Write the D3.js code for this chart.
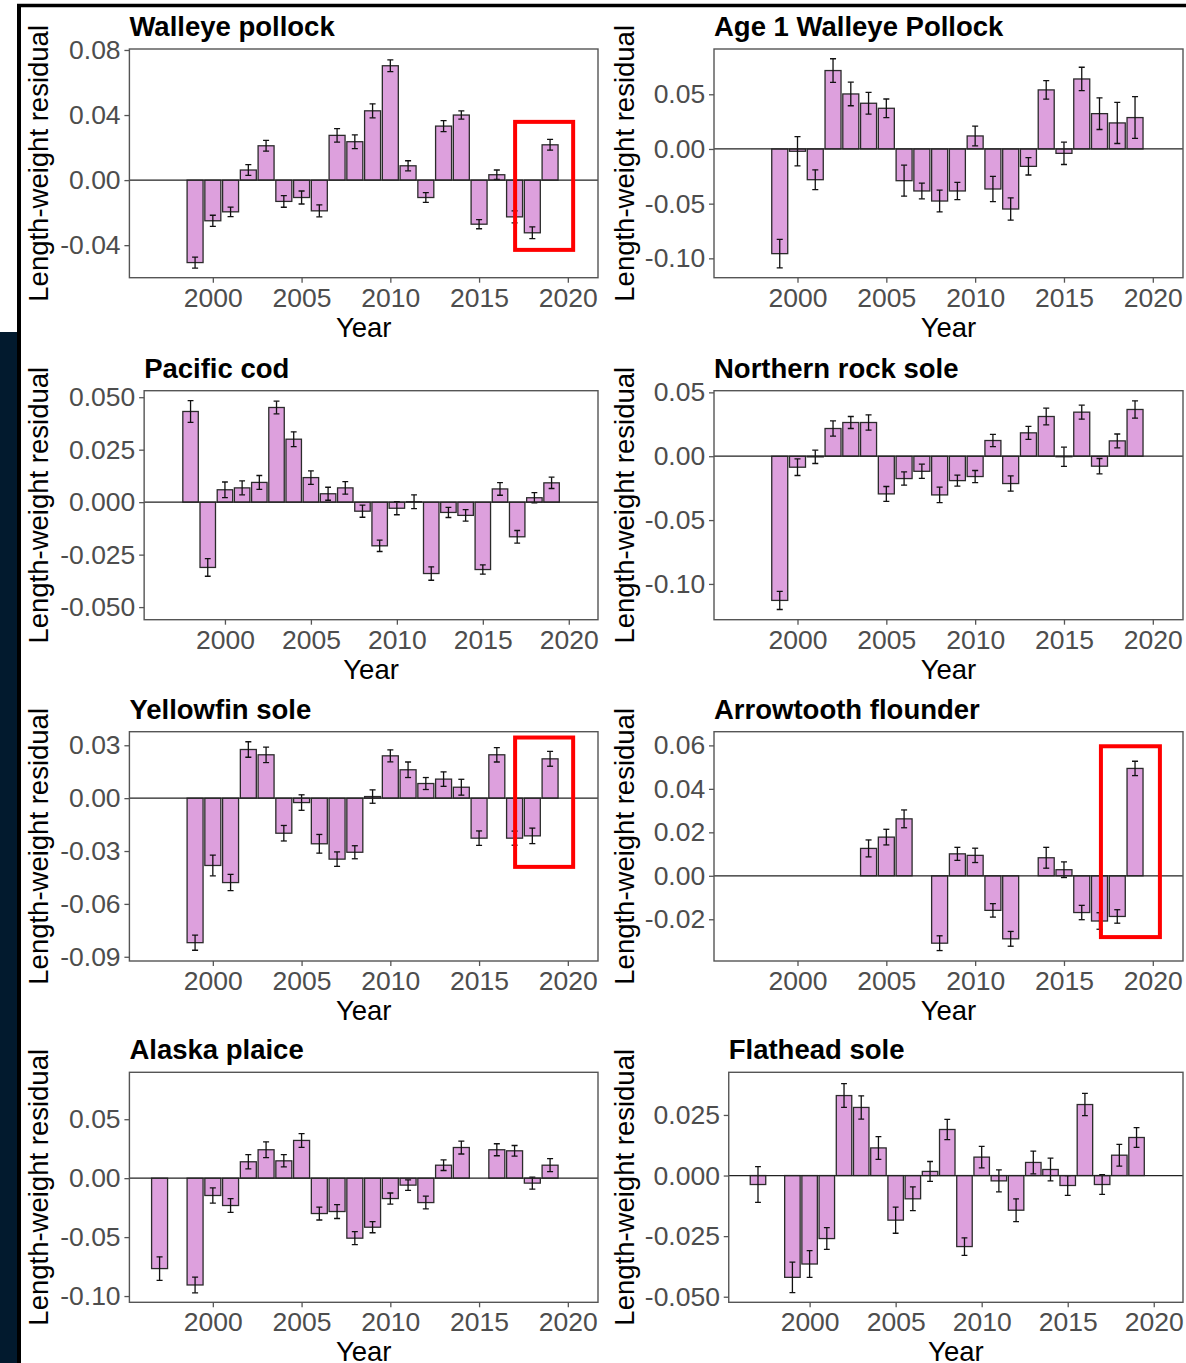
<!DOCTYPE html>
<html>
<head>
<meta charset="utf-8">
<script src="https://cdn.jsdelivr.net/npm/d3@7"></script>
<style>
  body { margin: 0; background: #fff; }
  svg { display: block; }
  text { font-family: "Liberation Sans", Arial, sans-serif; }
</style>
</head>
<body>
<svg id="fig" width="1186" height="1363"></svg>
<script>
// Survey years shared by every species (null = no estimate that year)
const years = [1997, 1998, 1999, 2000, 2001, 2002, 2003, 2004, 2005, 2006, 2007, 2008,
               2009, 2010, 2011, 2012, 2013, 2014, 2015, 2016, 2017, 2018, 2019];
const yearTicks = [2000, 2005, 2010, 2015, 2020];

const walleyeResid = [null, null, -0.0507, -0.0250, -0.0195, 0.0062, 0.0211, -0.0131, -0.0107, -0.0189, 0.0275, 0.0236,
                      0.0426, 0.0703, 0.0088, -0.0107, 0.0332, 0.0400, -0.0271, 0.0033, -0.0226, -0.0324, 0.0217];
const walleyeSE    = [null, null, 0.0034, 0.0034, 0.0029, 0.0033, 0.0033, 0.0036, 0.0040, 0.0037, 0.0041, 0.0042,
                      0.0043, 0.0036, 0.0031, 0.0030, 0.0034, 0.0025, 0.0028, 0.0029, 0.0037, 0.0036, 0.0033];
const walleyeTicks = [-0.04, 0, 0.04, 0.08];
const walleyeTickLabels = ["-0.04", "0.00", "0.04", "0.08"];

const age1Resid = [null, null, -0.0957, -0.0021, -0.0281, 0.0717, 0.0503, 0.0418, 0.0372, -0.0290, -0.0384, -0.0476,
                   -0.0384, 0.0119, -0.0366, -0.0549, -0.0159, 0.0540, -0.0040, 0.0640, 0.0323, 0.0238, 0.0287];
const age1SE    = [null, null, 0.0131, 0.0134, 0.0090, 0.0108, 0.0108, 0.0099, 0.0085, 0.0142, 0.0072, 0.0100,
                   0.0079, 0.0090, 0.0116, 0.0102, 0.0079, 0.0085, 0.0102, 0.0107, 0.0145, 0.0188, 0.0191];
const age1Ticks = [-0.10, -0.05, 0, 0.05];
const age1TickLabels = ["-0.10", "-0.05", "0.00", "0.05"];

const codResid = [null, 0.0432, -0.0311, 0.0059, 0.0068, 0.0094, 0.0451, 0.0300, 0.0117, 0.0040, 0.0068, -0.0043,
                  -0.0208, -0.0029, 0.0002, -0.0340, -0.0049, -0.0063, -0.0321, 0.0063, -0.0165, 0.0021, 0.0092];
const codSE    = [null, 0.0052, 0.0042, 0.0037, 0.0033, 0.0033, 0.0030, 0.0035, 0.0032, 0.0031, 0.0030, 0.0029,
                  0.0027, 0.0031, 0.0033, 0.0032, 0.0024, 0.0027, 0.0022, 0.0030, 0.0030, 0.0024, 0.0027];
const codTicks = [-0.05, -0.025, 0, 0.025, 0.05];
const codTickLabels = ["-0.050", "-0.025", "0.000", "0.025", "0.050"];

const rockSoleResid = [null, null, -0.1129, -0.0086, -0.0005, 0.0217, 0.0264, 0.0264, -0.0295, -0.0175, -0.0118, -0.0303,
                       -0.0191, -0.0159, 0.0123, -0.0214, 0.0183, 0.0311, -0.0004, 0.0345, -0.0078, 0.0120, 0.0366];
const rockSoleSE    = [null, null, 0.0071, 0.0065, 0.0052, 0.0059, 0.0047, 0.0060, 0.0058, 0.0052, 0.0056, 0.0061,
                       0.0043, 0.0047, 0.0048, 0.0060, 0.0051, 0.0065, 0.0075, 0.0055, 0.0060, 0.0054, 0.0068];
const rockSoleTicks = [-0.10, -0.05, 0, 0.05];
const rockSoleTickLabels = ["-0.10", "-0.05", "0.00", "0.05"];

const yellowfinResid = [null, null, -0.0820, -0.0382, -0.0479, 0.0276, 0.0246, -0.0199, -0.0025, -0.0259, -0.0346, -0.0307,
                        0.0009, 0.0240, 0.0161, 0.0083, 0.0108, 0.0062, -0.0227, 0.0246, -0.0227, -0.0214, 0.0223];
const yellowfinSE    = [null, null, 0.0043, 0.0059, 0.0046, 0.0044, 0.0044, 0.0044, 0.0044, 0.0053, 0.0041, 0.0037,
                        0.0038, 0.0034, 0.0044, 0.0034, 0.0041, 0.0045, 0.0041, 0.0041, 0.0040, 0.0044, 0.0042];
const yellowfinTicks = [-0.09, -0.06, -0.03, 0, 0.03];
const yellowfinTickLabels = ["-0.09", "-0.06", "-0.03", "0.00", "0.03"];

const arrowtoothResid = [null, null, null, null, null, null, null, 0.0126, 0.0178, 0.0262, null, -0.0310,
                         0.0101, 0.0094, -0.0159, -0.0290, null, 0.0083, 0.0028, -0.0169, -0.0208, -0.0187, 0.0494];
const arrowtoothSE    = [null, null, null, null, null, null, null, 0.0039, 0.0036, 0.0041, null, 0.0034,
                         0.0030, 0.0033, 0.0031, 0.0034, null, 0.0048, 0.0036, 0.0033, 0.0038, 0.0031, 0.0033];
const arrowtoothTicks = [-0.02, 0, 0.02, 0.04, 0.06];
const arrowtoothTickLabels = ["-0.02", "0.00", "0.02", "0.04", "0.06"];

const plaiceResid = [-0.0767, null, -0.0906, -0.0147, -0.0232, 0.0139, 0.0241, 0.0147, 0.0320, -0.0300, -0.0283, -0.0509,
                     -0.0416, -0.0173, -0.0059, -0.0207, 0.0110, 0.0260, null, 0.0241, 0.0232, -0.0042, 0.0110];
const plaiceSE    = [0.0100, null, 0.0067, 0.0064, 0.0058, 0.0061, 0.0067, 0.0052, 0.0058, 0.0055, 0.0059, 0.0055,
                     0.0047, 0.0047, 0.0044, 0.0054, 0.0045, 0.0055, null, 0.0051, 0.0045, 0.0051, 0.0055];
const plaiceTicks = [-0.10, -0.05, 0, 0.05];
const plaiceTickLabels = ["-0.10", "-0.05", "0.00", "0.05"];

const flatheadResid = [-0.0037, null, -0.0420, -0.0365, -0.0260, 0.0330, 0.0281, 0.0114, -0.0184, -0.0096, 0.0017, 0.0190,
                       -0.0293, 0.0076, -0.0022, -0.0143, 0.0054, 0.0025, -0.0041, 0.0293, -0.0037, 0.0084, 0.0157];
const flatheadSE    = [0.0074, null, 0.0063, 0.0055, 0.0045, 0.0049, 0.0048, 0.0047, 0.0054, 0.0049, 0.0041, 0.0042,
                       0.0036, 0.0044, 0.0045, 0.0047, 0.0047, 0.0047, 0.0041, 0.0046, 0.0041, 0.0045, 0.0041];
const flatheadTicks = [-0.05, -0.025, 0, 0.025];
const flatheadTickLabels = ["-0.050", "-0.025", "0.000", "0.025"];

// Panel definitions: title, data, y-axis limits, highlighted year span (if any)
const panels = [
  { title: "Walleye pollock", resid: walleyeResid, se: walleyeSE, ticks: walleyeTicks, labels: walleyeTickLabels,
    ylim: [-0.0600, 0.0806], highlight: { x: [2017.03, 2020.3], y: [-0.0429, 0.0358] } },
  { title: "Age 1 Walleye Pollock", resid: age1Resid, se: age1SE, ticks: age1Ticks, labels: age1TickLabels,
    ylim: [-0.1177, 0.0914] },
  { title: "Pacific cod", resid: codResid, se: codSE, ticks: codTicks, labels: codTickLabels,
    ylim: [-0.0560, 0.0531] },
  { title: "Northern rock sole", resid: rockSoleResid, se: rockSoleSE, ticks: rockSoleTicks, labels: rockSoleTickLabels,
    ylim: [-0.1280, 0.0513] },
  { title: "Yellowfin sole", resid: yellowfinResid, se: yellowfinSE, ticks: yellowfinTicks, labels: yellowfinTickLabels,
    ylim: [-0.0924, 0.0377], highlight: { x: [2017.03, 2020.3], y: [-0.0390, 0.0344] } },
  { title: "Arrowtooth flounder", resid: arrowtoothResid, se: arrowtoothSE, ticks: arrowtoothTicks, labels: arrowtoothTickLabels,
    ylim: [-0.0392, 0.0663], highlight: { x: [2017.08, 2020.4], y: [-0.0282, 0.0596] } },
  { title: "Alaska plaice", resid: plaiceResid, se: plaiceSE, ticks: plaiceTicks, labels: plaiceTickLabels,
    ylim: [-0.1053, 0.0898] },
  { title: "Flathead sole", resid: flatheadResid, se: flatheadSE, ticks: flatheadTicks, labels: flatheadTickLabels,
    ylim: [-0.0523, 0.0426] }
];

// Grid geometry
const colStart = [60.2, 644.8];     // left edge of the y tick-label column
const colRight = [598, 1183];       // right edge of the panel box
const yTitleX  = [48, 633.5];       // baseline of the rotated y-axis title
const rowTop    = [49, 390.7, 731.7, 1072.3];
const rowBottom = [277.7, 619.7, 961, 1302.3];
const xDomain = [1995.3, 2021.7];

const FONT_TICK = 26.5, FONT_AXIS = 27.5, FONT_TITLE = 27.5;
const tickLen = 5, tickPadY = 3.8;

const svg = d3.select("#fig");
svg.append("rect").attr("width", 1186).attr("height", 1363).attr("fill", "#fff");

// Page frame: dark side strip and black rules
svg.append("rect").attr("x", 0).attr("y", 332).attr("width", 17).attr("height", 1363 - 332).attr("fill", "#021a2e");
svg.append("line").attr("x1", 19).attr("x2", 19).attr("y1", 4).attr("y2", 1363)
  .attr("stroke", "#000").attr("stroke-width", 4);
svg.append("line").attr("x1", 17).attr("x2", 1186).attr("y1", 5.5).attr("y2", 5.5)
  .attr("stroke", "#000").attr("stroke-width", 3.5);

// Text width helper for laying out the tick-label column
const measure = svg.append("text").attr("font-size", FONT_TICK).attr("visibility", "hidden");
function textWidth(s) { measure.text(s); return measure.node().getComputedTextLength(); }

panels.forEach((p, i) => {
  const col = i % 2, row = Math.floor(i / 2);
  const labelW = d3.max(p.labels, textWidth);
  const left = colStart[col] + labelW + tickLen + tickPadY;
  const right = colRight[col];
  const top = rowTop[row], bottom = rowBottom[row];

  const x = d3.scaleLinear().domain(xDomain).range([left, right]);
  const y = d3.scaleLinear().domain(p.ylim).range([bottom, top]);
  const bw = x(years[0] + 0.45) - x(years[0] - 0.45);
  const capW = x(years[0] + 0.17) - x(years[0] - 0.17);

  const g = svg.append("g");
  const rows = years.map((yr, k) => ({ yr, v: p.resid[k], se: p.se[k] })).filter(d => d.v !== null);

  const clipId = "clip" + i;
  svg.append("clipPath").attr("id", clipId).append("rect")
    .attr("x", left).attr("y", top).attr("width", right - left).attr("height", bottom - top);
  const plot = g.append("g").attr("clip-path", `url(#${clipId})`);

  // Bars
  plot.selectAll("rect.bar").data(rows).join("rect").attr("class", "bar")
    .attr("x", d => x(d.yr) - bw / 2)
    .attr("width", bw)
    .attr("y", d => y(Math.max(0, d.v)))
    .attr("height", d => Math.abs(y(d.v) - y(0)))
    .attr("fill", "#DDA0DD").attr("stroke", "#2b2b2b").attr("stroke-width", 1.3);

  // Error bars
  const eb = plot.selectAll("g.eb").data(rows).join("g").attr("class", "eb")
    .attr("stroke", "#111").attr("stroke-width", 1.3);
  eb.append("line").attr("x1", d => x(d.yr)).attr("x2", d => x(d.yr))
    .attr("y1", d => y(d.v - d.se)).attr("y2", d => y(d.v + d.se));
  eb.append("line").attr("x1", d => x(d.yr) - capW / 2).attr("x2", d => x(d.yr) + capW / 2)
    .attr("y1", d => y(d.v + d.se)).attr("y2", d => y(d.v + d.se));
  eb.append("line").attr("x1", d => x(d.yr) - capW / 2).attr("x2", d => x(d.yr) + capW / 2)
    .attr("y1", d => y(d.v - d.se)).attr("y2", d => y(d.v - d.se));

  // Zero reference line
  plot.append("line").attr("x1", left).attr("x2", right).attr("y1", y(0)).attr("y2", y(0))
    .attr("stroke", "#222").attr("stroke-width", 1.2);

  // Panel border
  g.append("rect").attr("x", left).attr("y", top).attr("width", right - left).attr("height", bottom - top)
    .attr("fill", "none").attr("stroke", "#555").attr("stroke-width", 1.4);

  // Axes
  const yAxis = g.append("g").attr("transform", `translate(${left},0)`)
    .call(d3.axisLeft(y).tickValues(p.ticks).tickFormat((d, k) => p.labels[k])
      .tickSize(tickLen).tickPadding(tickPadY));
  const xAxis = g.append("g").attr("transform", `translate(0,${bottom})`)
    .call(d3.axisBottom(x).tickValues(yearTicks).tickFormat(d3.format("d"))
      .tickSize(tickLen).tickPadding(5));
  [yAxis, xAxis].forEach(a => {
    a.select(".domain").remove();
    a.selectAll(".tick line").attr("stroke", "#555").attr("stroke-width", 1.3);
    a.selectAll(".tick text").attr("font-size", FONT_TICK).attr("fill", "#4D4D4D")
      .attr("font-family", '"Liberation Sans", Arial, sans-serif');
  });

  // Titles
  g.append("text").attr("x", left).attr("y", top - 13)
    .attr("font-size", FONT_TITLE).attr("font-weight", "bold").attr("fill", "#000").text(p.title);
  g.append("text").attr("x", (left + right) / 2).attr("y", bottom + 59)
    .attr("text-anchor", "middle").attr("font-size", FONT_AXIS).attr("fill", "#000").text("Year");
  g.append("text").attr("transform", `translate(${yTitleX[col]},${(top + bottom) / 2}) rotate(-90)`)
    .attr("text-anchor", "middle").attr("font-size", FONT_AXIS).attr("fill", "#000")
    .text("Length-weight residual");

  // Highlight box around the most recent years
  if (p.highlight) {
    const h = p.highlight;
    g.append("rect")
      .attr("x", x(h.x[0])).attr("y", y(h.y[1]))
      .attr("width", x(h.x[1]) - x(h.x[0])).attr("height", y(h.y[0]) - y(h.y[1]))
      .attr("fill", "none").attr("stroke", "#FF0000").attr("stroke-width", 4);
  }
});
measure.remove();
</script>
</body>
</html>
